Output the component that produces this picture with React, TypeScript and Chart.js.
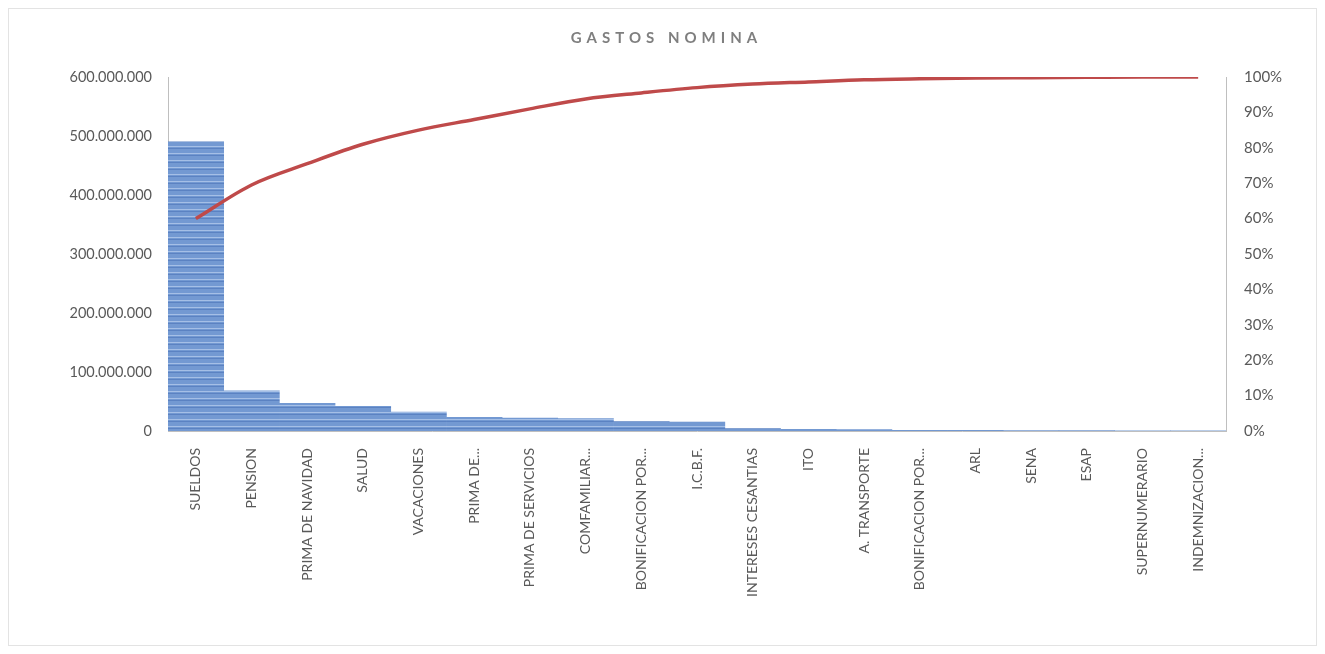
import React, { useEffect, useRef } from "react";
import { Chart, registerables } from "chart.js";

Chart.register(...registerables);

const categories: string[] = [
  "SUELDOS",
  "PENSION",
  "PRIMA DE NAVIDAD",
  "SALUD",
  "VACACIONES",
  "PRIMA DE...",
  "PRIMA DE SERVICIOS",
  "COMFAMILIAR...",
  "BONIFICACION POR...",
  "I.C.B.F.",
  "INTERESES CESANTIAS",
  "ITO",
  "A. TRANSPORTE",
  "BONIFICACION POR...",
  "ARL",
  "SENA",
  "ESAP",
  "SUPERNUMERARIO",
  "INDEMNIZACION...",
];

const gastos: number[] = [
  490000000, 68000000, 47000000, 42000000, 32000000, 23000000, 22000000,
  21000000, 16000000, 15000000, 4000000, 3000000, 2500000, 1200000, 1000000,
  800000, 600000, 400000, 200000,
];

const acumulado: number[] = [
  60, 69.5, 75.5, 81, 85, 88, 91, 93.8, 95.5, 97, 98, 98.6, 99.2, 99.5, 99.7,
  99.8, 99.9, 100, 100,
];

const leftTicks: number[] = [0, 100000000, 200000000, 300000000, 400000000, 500000000, 600000000];
const rightTicks: number[] = [0, 10, 20, 30, 40, 50, 60, 70, 80, 90, 100];

const TITLE = "GASTOS NOMINA";
const FONT = "Lato, 'Open Sans', sans-serif";

function makePattern(ctx: CanvasRenderingContext2D): CanvasPattern | string {
  const c = document.createElement("canvas");
  c.width = 8;
  c.height = 7;
  const p = c.getContext("2d");
  if (!p) return "#7399d2";
  p.fillStyle = "#7399d2";
  p.fillRect(0, 0, 8, 7);
  p.fillStyle = "#a5bfe6";
  p.fillRect(0, 4, 8, 1);
  p.fillStyle = "#5b82c2";
  p.fillRect(0, 6, 8, 1);
  return ctx.createPattern(c, "repeat") || "#7399d2";
}

function fmt(v: number): string {
  return String(Math.round(v)).replace(/\B(?=(\d{3})+(?!\d))/g, ".");
}

export default function App() {
  const ref = useRef<HTMLCanvasElement | null>(null);

  useEffect(() => {
    const canvas = ref.current;
    if (!canvas) return;
    const ctx = canvas.getContext("2d");
    if (!ctx) return;
    const pattern = makePattern(ctx);

    const titlePlugin = {
      id: "spacedTitle",
      afterDraw(chart: any) {
        const c = chart.ctx as any;
        c.save();
        c.font = `bold 15px ${FONT}`;
        c.fillStyle = "#7f7f7f";
        c.textAlign = "center";
        c.textBaseline = "middle";
        c.letterSpacing = "5px";
        c.fillText(TITLE, chart.width / 2 + 4, 29);
        c.restore();
      },
    };

    const chart = new Chart(ctx, {
      type: "bar",
      data: {
        labels: categories,
        datasets: [
          {
            type: "line",
            label: "Acumulado",
            data: acumulado,
            yAxisID: "y1",
            borderColor: "#bf4a4a",
            backgroundColor: "#bf4a4a",
            borderWidth: 3.5,
            pointRadius: 0,
            cubicInterpolationMode: "monotone",
            order: 0,
          } as any,
          {
            type: "bar",
            label: "Gastos",
            data: gastos,
            yAxisID: "y",
            backgroundColor: pattern as any,
            borderWidth: 0,
            barPercentage: 1,
            categoryPercentage: 1,
            order: 1,
          },
        ],
      },
      plugins: [titlePlugin],
      options: {
        animation: false,
        responsive: false,
        maintainAspectRatio: false,
        layout: { padding: { top: 68, left: 0, right: 0, bottom: 0 } },
        plugins: {
          legend: { display: false },
          tooltip: { enabled: false },
          title: { display: false },
        },
        scales: {
          x: {
            grid: { display: false, drawTicks: false },
            border: { display: true, color: "#bfbfbf", width: 1 },
            ticks: {
              autoSkip: false,
              maxRotation: 90,
              minRotation: 90,
              padding: 17,
              color: "#595959",
              font: { family: FONT, size: 14 },
            },
            afterFit(scale: any) {
              scale.height = 214;
            },
          },
          y: {
            position: "left",
            min: 0,
            max: 600000000,
            grid: { display: false, drawTicks: false },
            border: { display: true, color: "#bfbfbf", width: 1 },
            afterBuildTicks(scale: any) {
              scale.ticks = leftTicks.map((v) => ({ value: v }));
            },
            ticks: {
              padding: 16,
              color: "#595959",
              font: { family: FONT, size: 14.5 },
              callback: (v: any) => fmt(Number(v)),
            },
            afterFit(scale: any) {
              scale.width = 159;
            },
          },
          y1: {
            position: "right",
            min: 0,
            max: 100,
            grid: { display: false, drawTicks: false },
            border: { display: true, color: "#bfbfbf", width: 1 },
            afterBuildTicks(scale: any) {
              scale.ticks = rightTicks.map((v) => ({ value: v }));
            },
            ticks: {
              padding: 18,
              color: "#595959",
              font: { family: FONT, size: 15 },
              callback: (v: any) => `${v}%`,
            },
            afterFit(scale: any) {
              scale.width = 90;
            },
          },
        },
      },
    });

    return () => chart.destroy();
  }, []);

  return (
    <div
      style={{
        width: 1309,
        height: 638,
        boxSizing: "border-box",
        border: "1px solid #e3e3e3",
        background: "#ffffff",
        position: "relative",
      }}
    >
      <canvas
        ref={ref}
        width={1307}
        height={636}
        style={{ display: "block", width: 1307, height: 636 }}
      />
    </div>
  );
}
